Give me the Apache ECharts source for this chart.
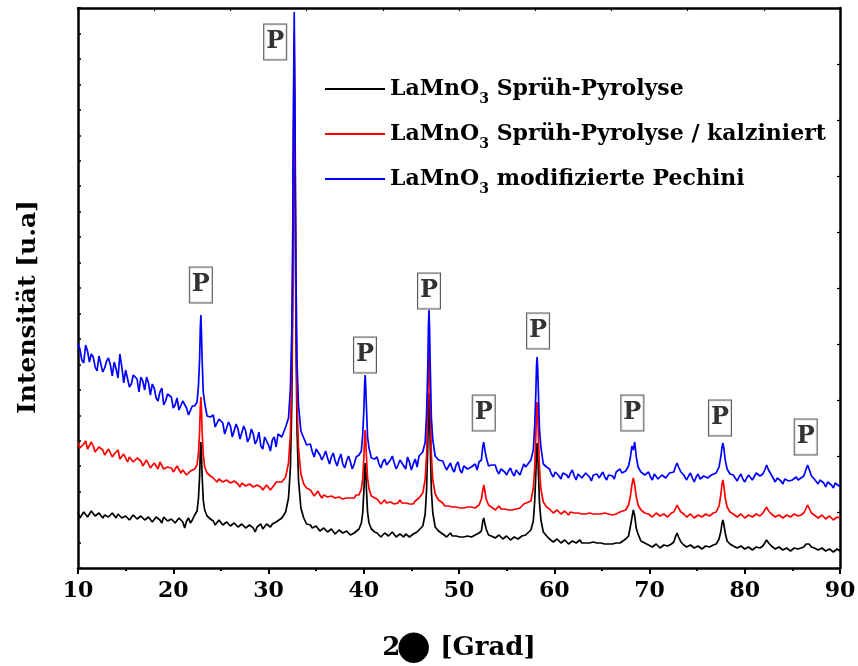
<!DOCTYPE html>
<html>
<head>
<meta charset="utf-8">
<script src="https://cdn.jsdelivr.net/npm/echarts@6/dist/echarts.min.js"></script>
<style>
  html, body { margin: 0; padding: 0; background: #fff; overflow: hidden; }
  #chart { width: 858px; height: 666px; }
</style>
</head>
<body>
<div id="chart"></div>
<script>
// Diffraction angle 2θ in degrees (finer sampling around the reflections)
const twoTheta = [
  10.0,10.2,10.4,10.6,10.8,11.0,11.2,11.4,11.6,11.8,12.0,12.2,12.4,12.6,12.8,13.0,13.2,13.4,13.6,13.8,14.0,14.2,14.4,14.6,14.8,15.0,15.2,15.4,15.6,15.8,16.0,16.2,16.4,16.6,16.8,17.0,17.2,17.4,17.6,17.8,18.0,18.2,18.4,18.6,18.8,19.0,19.2,19.4,19.6,19.8,20.0,20.2,20.4,20.6,20.8,21.0,21.2,21.4,21.6,21.8,22.0,
  22.25,22.5,22.65,22.77,22.84,22.9,22.96,23.03,23.15,23.3,23.55,23.9,
  24.2,24.4,24.6,24.8,25.0,25.2,25.4,25.6,25.8,26.0,26.2,26.4,26.6,26.8,27.0,27.2,27.4,27.6,27.8,28.0,28.2,28.4,28.6,28.8,29.0,29.2,29.4,29.6,29.8,30.0,30.2,30.4,30.6,30.8,31.0,
  31.4,31.8,32.1,32.3,32.45,32.55,32.62,32.7,32.78,32.88,33.0,33.15,33.4,33.7,34.0,
  34.4,34.6,34.8,35.0,35.2,35.4,35.6,35.8,36.0,36.2,36.4,36.6,36.8,37.0,37.2,37.4,37.6,37.8,38.0,38.2,38.4,38.6,38.8,39.0,39.2,
  39.5,39.75,39.9,40.02,40.09,40.15,40.21,40.28,40.4,40.55,40.8,41.15,
  41.4,41.6,41.8,42.0,42.2,42.4,42.6,42.8,43.0,43.2,43.4,43.6,43.8,44.0,44.2,44.4,44.6,44.8,45.0,45.2,45.4,45.6,45.8,
  46.2,46.45,46.6,46.72,46.79,46.85,46.91,46.98,47.1,47.25,47.5,47.85,
  48.3,48.5,48.7,48.9,49.1,49.3,49.5,49.7,49.9,50.1,50.3,50.5,50.7,50.9,51.1,51.3,51.5,51.7,51.9,
  52.1,52.35,52.5,52.6,52.7,52.85,53.1,53.4,
  53.8,54.0,54.2,54.4,54.6,54.8,55.0,55.2,55.4,55.6,55.8,56.0,56.2,56.4,56.6,56.8,57.0,
  57.55,57.8,57.95,58.07,58.14,58.2,58.26,58.33,58.45,58.6,58.85,59.2,
  59.5,59.7,59.9,60.1,60.3,60.5,60.7,60.9,61.1,61.3,61.5,61.7,61.9,62.1,62.3,62.5,62.7,62.9,63.1,63.3,63.5,63.7,63.9,64.1,64.3,64.5,64.7,64.9,65.1,65.3,65.5,65.7,65.9,66.1,66.3,66.5,66.7,66.9,67.1,
  67.5,67.8,68.0,68.15,68.3,68.45,68.6,68.8,69.1,69.5,
  69.9,70.1,70.3,70.5,70.7,70.9,71.1,71.3,71.5,71.7,71.9,72.1,72.3,
  72.55,72.75,72.9,73.05,73.3,73.6,
  73.9,74.1,74.3,74.5,74.7,74.9,75.1,75.3,75.5,75.7,75.9,76.1,76.3,76.5,76.7,
  77.0,77.3,77.5,77.6,77.7,77.8,77.95,78.15,78.45,78.8,
  79.2,79.4,79.6,79.8,80.0,80.2,80.4,80.6,80.8,81.0,81.2,81.4,81.6,
  81.9,82.1,82.3,82.5,82.8,
  83.2,83.4,83.6,83.8,84.0,84.2,84.4,84.6,84.8,85.0,85.2,85.4,85.6,
  85.9,86.2,86.45,86.6,86.75,87.0,87.3,
  87.7,87.9,88.1,88.3,88.5,88.7,88.9,89.1,89.3,89.5,89.7,89.9,90.0
];

// Intensity in arbitrary units (the three patterns are offset vertically)
const intSprayPyrolysis = [
  55,50,51,56,57,51,52,57,55,52,50,55,56,50,53,55,51,49,55,53,50,54,53,50,49,52,54,48,50,53,52,49,47,52,51,48,46,51,50,46,47,51,50,48,45,51,49,47,46,49,50,45,47,50,49,46,40,47,50,45,48,
  53,57,70,92,116,126,114,93,68,58,52,49,
  47,43,44,48,47,43,42,46,45,42,41,45,44,41,40,44,43,40,39,43,42,40,36,41,43,44,39,40,44,42,41,44,45,46,47,
  50,56,70,100,166,275,405,508,405,234,136,88,60,50,44,
  43,40,38,42,41,37,36,40,39,36,35,39,38,34,34,38,37,35,33,37,36,33,34,35,37,
  39,45,56,79,97,105,97,79,56,45,39,36,
  35,34,31,32,35,34,32,33,36,34,31,33,34,32,31,34,35,31,32,34,35,36,37,
  42,54,79,121,160,175,158,123,77,55,41,37,
  34,33,31,32,35,32,30,32,33,31,29,31,33,32,30,31,32,33,31,
  35,37,47,50,45,39,33,32,
  30,31,33,31,29,30,32,30,28,30,31,30,29,30,32,34,33,
  38,47,67,95,118,125,116,97,65,48,36,32,
  29,28,26,27,29,27,25,26,28,26,24,26,27,26,25,27,28,25,23,25,26,25,24,26,27,25,23,25,26,24,22,24,25,24,23,25,26,25,26,
  29,32,42,50,58,52,40,34,27,25,
  23,24,21,23,24,22,20,22,23,21,22,24,24,
  26,32,35,31,26,23,
  21,22,23,21,20,21,22,20,19,21,22,20,21,22,23,
  24,29,37,44,48,44,35,27,24,22,
  20,21,22,20,19,20,21,19,18,20,21,19,20,
  22,25,28,25,22,
  19,20,21,19,18,19,20,18,17,18,20,19,19,
  20,21,24,26,24,21,20,
  18,19,20,18,17,18,19,17,16,18,19,17,17
];

const intSprayCalcined = [
  125,120,118,124,127,119,117,126,122,116,114,121,121,118,113,114,119,121,111,114,116,118,109,111,114,116,106,111,112,106,104,110,109,107,102,104,108,106,100,101,105,103,99,106,104,99,97,101,103,100,96,97,102,101,95,98,100,93,94,97,99,
  99,103,115,137,161,171,159,137,113,101,95,92,
  90,92,86,89,91,86,84,88,89,85,83,87,88,84,81,85,86,82,80,84,85,81,79,83,84,81,78,80,83,82,78,80,83,86,84,
  86,91,105,134,199,306,434,535,430,261,165,120,94,84,80,
  78,75,72,74,77,73,70,73,75,71,69,72,74,70,68,71,73,69,67,70,72,70,68,70,73,
  73,79,90,112,130,138,130,112,90,79,72,70,
  69,67,64,66,68,65,63,66,67,64,62,65,68,65,63,65,66,64,62,64,67,68,70,
  75,89,114,163,203,220,203,163,113,88,74,68,
  65,62,60,62,64,61,59,61,63,60,58,60,62,61,59,61,63,60,61,
  63,69,78,83,78,69,63,61,
  58,60,62,59,57,59,61,58,56,58,60,59,58,60,62,64,63,
  67,80,100,134,157,166,157,134,100,79,66,61,
  59,57,55,56,58,56,54,55,57,55,53,56,57,55,54,55,56,54,52,54,56,55,53,54,55,54,52,54,56,55,53,54,55,53,52,54,55,56,57,
  58,63,72,83,90,83,72,63,58,55,
  54,52,51,53,55,53,52,50,54,52,51,53,55,
  56,60,63,60,56,54,
  51,53,54,52,50,52,53,52,51,53,54,53,52,54,55,
  56,62,74,83,88,83,70,61,56,54,
  51,53,54,52,50,52,53,52,51,53,54,53,52,
  55,57,61,57,54,
  51,52,53,51,50,52,53,52,51,53,54,53,52,
  53,55,60,63,60,55,53,
  50,52,53,51,49,51,52,50,48,50,51,50,50
];

const intPechini = [
  224,219,208,205,223,217,206,214,211,201,197,212,210,196,200,207,210,203,192,206,199,190,214,201,185,198,196,181,184,193,195,189,176,191,187,178,191,185,173,184,180,170,167,176,180,163,167,174,176,171,160,163,170,158,157,167,168,160,153,155,162,
  162,166,183,210,240,253,236,209,176,165,152,151,
  153,141,139,149,150,145,134,136,146,142,131,133,144,139,129,131,142,137,126,130,139,134,124,128,136,122,119,131,133,123,117,128,131,121,134,
  131,141,150,180,240,342,462,556,455,296,204,163,137,130,123,
  124,116,111,119,121,113,108,112,117,110,104,111,115,107,102,109,114,104,100,107,112,106,99,104,111,
  113,117,135,160,184,193,181,162,131,120,110,109,
  111,104,100,106,109,103,101,108,112,105,99,103,108,110,102,99,111,106,98,104,109,101,112,
  116,126,155,200,242,258,239,203,150,128,112,108,
  107,102,98,100,105,99,96,103,106,98,95,102,104,99,97,101,103,104,98,
  106,108,122,126,119,111,102,103,
  103,97,94,99,101,96,93,97,100,95,92,98,99,93,95,104,101,
  108,118,143,176,203,211,200,178,139,121,104,101,
  99,94,91,96,98,92,89,95,97,93,90,95,98,92,88,94,96,90,91,95,97,91,87,93,95,94,90,92,96,91,88,93,94,92,89,96,97,99,95,
  97,102,111,122,118,126,112,101,96,93,
  96,91,88,94,95,89,87,93,94,90,89,95,94,
  96,102,105,101,96,93,
  88,92,95,90,86,91,94,89,87,92,93,90,89,93,95,
  95,101,112,120,125,120,108,99,94,93,
  87,91,94,89,86,90,93,91,88,90,95,93,92,
  94,98,103,98,93,
  86,90,92,87,84,89,91,87,85,88,90,91,88,
  90,92,99,103,99,92,89,
  84,88,90,85,81,86,88,83,80,85,87,82,83
];

// Perovskite reflections, each tagged with a boxed "P"
const perovskiteTheta = [22.9, 30.7, 40.13, 46.85, 52.6, 58.3, 68.2, 77.4, 86.4];
const perovskiteMarkI = [283, 526, 213, 277, 155, 237, 155, 150, 131];

const seriesNames = [
  'LaMnO3 Sprüh-Pyrolyse',
  'LaMnO3 Sprüh-Pyrolyse / kalziniert',
  'LaMnO3 modifizierte Pechini'
];
const seriesColors = ['#000000', '#ff0000', '#0000ff'];
const seriesValues = [intSprayPyrolysis, intSprayCalcined, intPechini];

seriesValues.forEach((v, k) => {
  if (v.length !== twoTheta.length) console.warn('length mismatch', k, v.length, twoTheta.length);
});

const FONT = '"DejaVu Serif", "Liberation Serif", serif';

const lineSeries = seriesValues.map((vals, k) => ({
  name: seriesNames[k],
  type: 'line',
  data: twoTheta.map((t, i) => [t, vals[i]]),
  showSymbol: false,
  symbol: 'none',
  lineStyle: { color: seriesColors[k], width: 1.7 },
  itemStyle: { color: seriesColors[k] },
  z: 2 + k
}));

const chart = echarts.init(document.getElementById('chart'), null, { renderer: 'canvas' });

chart.setOption({
  animation: false,
  backgroundColor: '#ffffff',
  grid: { left: 78, right: 18, top: 8, bottom: 98, containLabel: false, outerBoundsMode: 'none' },
  legend: {
    orient: 'vertical',
    left: 320,
    top: 67,
    itemWidth: 60,
    itemHeight: 2,
    itemGap: 11,
    icon: 'rect',
    data: seriesNames,
    selectedMode: false,
    formatter: name => name.replace('LaMnO3', 'LaMnO{s|3}'),
    textStyle: {
      fontFamily: FONT,
      fontWeight: 'bold',
      fontSize: 22,
      color: '#000',
      lineHeight: 34,
      rich: {
        s: { fontFamily: FONT, fontWeight: 'bold', fontSize: 14, lineHeight: 14, color: '#000', verticalAlign: 'bottom' }
      }
    }
  },
  graphic: [{
    type: 'text',
    x: 28,
    y: 307,
    rotation: Math.PI / 2,
    style: {
      text: 'Intensität [u.a]',
      fontFamily: FONT,
      fontWeight: 'bold',
      fontSize: 25,
      fill: '#000',
      align: 'center',
      verticalAlign: 'middle'
    }
  }],
  xAxis: [
    {
      type: 'value',
      min: 10, max: 90, interval: 10,
      position: 'bottom',
      name: '2{c|●} [Grad]',
      nameLocation: 'middle',
      nameGap: 60,
      nameTextStyle: {
        fontFamily: FONT, fontWeight: 'bold', fontSize: 26, color: '#000',
        rich: { c: { fontFamily: FONT, fontSize: 40, color: '#000', padding: [0, 0, 0, -4] } }
      },
      axisLine: { show: true, onZero: false, lineStyle: { color: '#000', width: 2.5 } },
      axisTick: { show: true, inside: false, length: 6, lineStyle: { color: '#000', width: 2 } },
      minorTick: { show: true, splitNumber: 2, length: 3, lineStyle: { color: '#000', width: 2 } },
      axisLabel: { show: true, margin: 12, fontFamily: FONT, fontWeight: 'bold', fontSize: 22, color: '#000' },
      splitLine: { show: false }
    },
    {
      type: 'value',
      min: 10, max: 90, interval: 8,
      position: 'top',
      axisLine: { show: true, onZero: false, lineStyle: { color: '#000', width: 2.5 } },
      axisTick: { show: true, inside: true, length: 3, lineStyle: { color: '#000', width: 1.2 } },
      axisLabel: { show: false },
      splitLine: { show: false }
    }
  ],
  yAxis: [
    {
      type: 'value',
      min: 0, max: 560, interval: 560 / 22,
      position: 'left',
      axisLine: { show: true, onZero: false, lineStyle: { color: '#000', width: 2.5 } },
      axisTick: { show: true, inside: true, length: 3, lineStyle: { color: '#000', width: 1.5 } },
      axisLabel: { show: false },
      splitLine: { show: false }
    },
    {
      type: 'value',
      min: 0, max: 560, interval: 56,
      position: 'right',
      axisLine: { show: true, onZero: false, lineStyle: { color: '#000', width: 2.5 } },
      axisTick: { show: true, inside: true, length: 3, lineStyle: { color: '#000', width: 1.2 } },
      axisLabel: { show: false },
      splitLine: { show: false }
    }
  ],
  series: lineSeries.concat([{
    name: 'P-Reflexe',
    type: 'scatter',
    silent: true,
    symbolSize: 0,
    z: 10,
    data: perovskiteTheta.map((t, i) => [t, perovskiteMarkI[i]]),
    label: {
      show: true,
      position: 'inside',
      formatter: 'P',
      fontFamily: FONT,
      fontWeight: 'bold',
      fontSize: 24,
      color: '#000',
      backgroundColor: '#fff',
      borderColor: '#333',
      borderWidth: 1,
      padding: [6, 2, 5, 2]
    }
  }])
});
</script>
</body>
</html>
